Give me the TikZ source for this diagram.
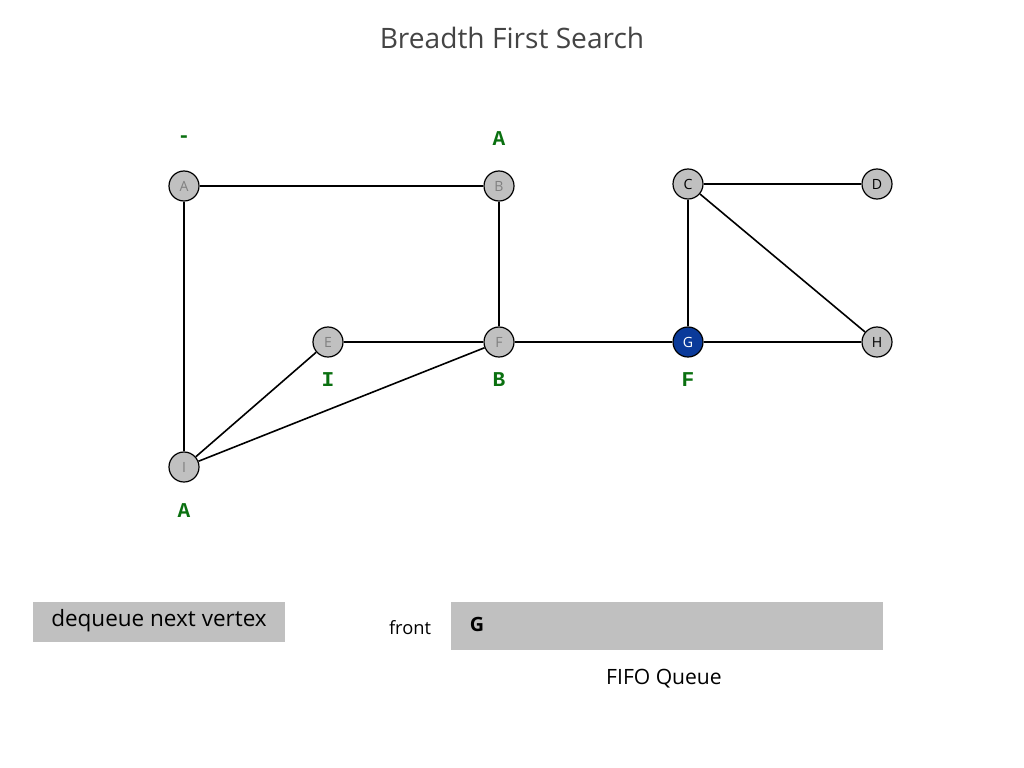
\documentclass[tikz,border=0pt]{standalone}
\usepackage{fontspec}
\setmainfont{Open Sans}
\newfontfamily\labelfont{Liberation Mono}
\definecolor{vgray}{HTML}{C0C0C0}
\definecolor{vgreen}{HTML}{0A7010}
\definecolor{vblue}{HTML}{0A3A9A}
\definecolor{tgray}{HTML}{444444}
\begin{document}
\begin{tikzpicture}[x=0.025cm, y=-0.025cm,
  vertex/.style={circle, draw, line width=0.3mm, fill=vgray, minimum size=0.75cm, inner sep=0pt, font=\fontsize{10}{10}\selectfont},
  done/.style={vertex, text=gray},
  current/.style={vertex, fill=vblue, text=white},
  edgeto/.style={font=\labelfont\bfseries\fontsize{15}{15}\selectfont, text=vgreen},
  link/.style={line width=0.4mm}]
  \useasboundingbox (0,0) rectangle (1024,768);
  %--- Title
  \node[text=tgray, font=\fontsize{20}{20}\selectfont] (title) at (512,38) {Breadth First Search};
  %--- Vertices
  \node[done] (A) at (184,186) {A};
  \node[done] (B) at (499,186) {B};
  \node[vertex] (C) at (688,184) {C};
  \node[vertex] (D) at (877,184) {D};
  \node[done] (E) at (328,342) {E};
  \node[done] (F) at (499,342) {F};
  \node[current] (G) at (688,342) {G};
  \node[vertex] (H) at (877,342) {H};
  \node[done] (I) at (184,467) {I};
  %--- Edges
  \draw[link] (A) -- (B);
  \draw[link] (A) -- (I);
  \draw[link] (B) -- (F);
  \draw[link] (C) -- (D);
  \draw[link] (C) -- (G);
  \draw[link] (C) -- (H);
  \draw[link] (E) -- (F);
  \draw[link] (F) -- (G);
  \draw[link] (G) -- (H);
  \draw[link] (I) -- (E);
  \draw[link] (I) -- (F);
  %--- edgeTo labels
  \node[edgeto] (lA) at (184,139) {-};
  \node[edgeto] (lB) at (499,139) {A};
  \node[edgeto] (lE) at (328,380) {I};
  \node[edgeto] (lF) at (499,380) {B};
  \node[edgeto] (lG) at (688,380) {F};
  \node[edgeto] (lI) at (184,511) {A};
  %--- Queue
  \fill[vgray] (33,602) rectangle (285,642);
  \node[font=\fontsize{16}{16}\selectfont] (step) at (159,621) {dequeue next vertex};
  \node[font=\fontsize{13}{13}\selectfont] (front) at (410,628) {front};
  \fill[vgray] (451,602) rectangle (883,650);
  \node[font=\bfseries\fontsize{14}{14}\selectfont] (qG) at (477,624) {G};
  \node[font=\fontsize{15}{15}\selectfont] (fifo) at (664,679) {FIFO Queue};
\end{tikzpicture}
\end{document}
